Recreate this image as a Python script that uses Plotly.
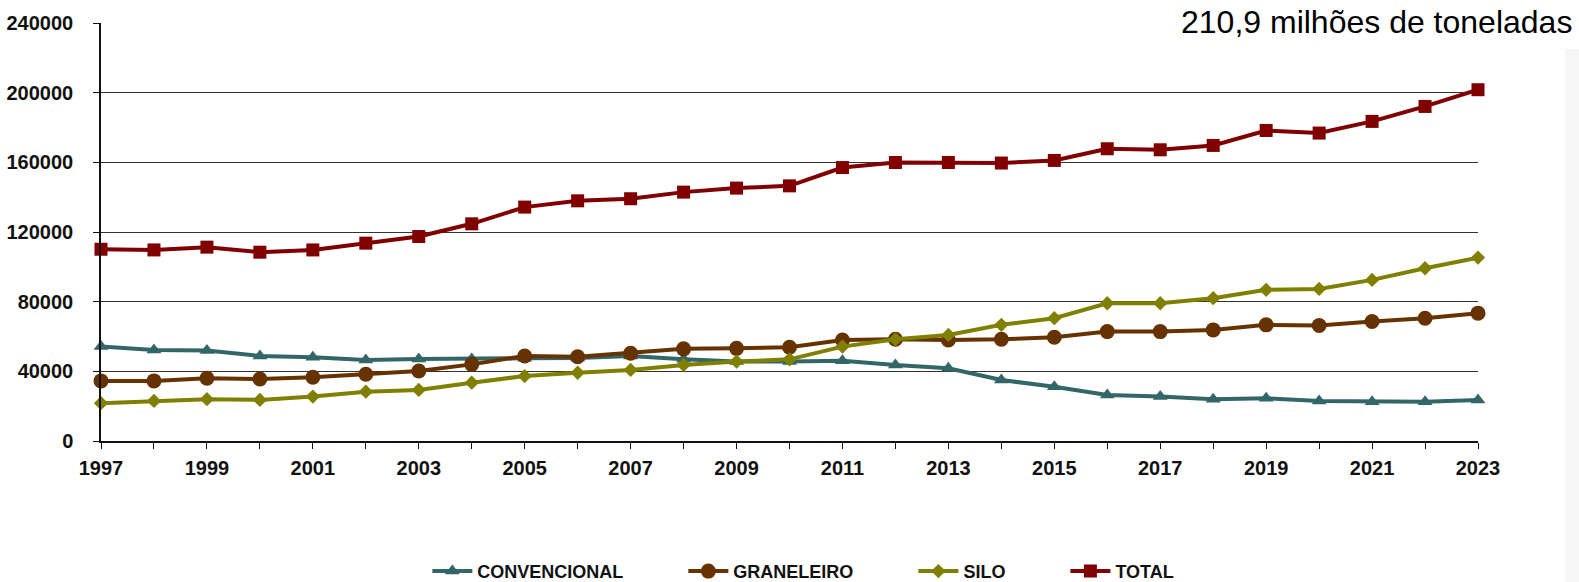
import plotly.graph_objects as go

# anos e séries (mil toneladas)
anos = list(range(1997, 2024))

convencional = [54200, 52300, 51900, 48800, 48100, 46500, 47100, 47100, 47500, 47700,
                48800, 46900, 45600, 45600, 46100, 43700, 41800, 35000, 31200, 26400,
                25500, 23900, 24500, 23000, 22600, 22600, 23600]
graneleiro = [34500, 34500, 36000, 35600, 36600, 38300, 40200, 44000, 48800, 48400,
              50400, 52900, 53200, 53800, 58000, 58400, 58000, 58400, 59600, 62800,
              62800, 63800, 66700, 66300, 68600, 70500, 73400]
silo = [21700, 23000, 24000, 23600, 25500, 28300, 29300, 33500, 37300, 39200,
        40800, 43700, 45600, 46900, 54200, 58400, 60900, 66700, 70500, 79100,
        79100, 82000, 86800, 87300, 92500, 99200, 105300]
total = [110100, 109700, 111300, 108400, 109700, 113600, 117400, 124700, 134300, 137900,
         139100, 142900, 145200, 146500, 157000, 159900, 159900, 159600, 161100, 167800,
         167200, 169700, 178300, 176800, 183500, 192100, 201700]

y_ticks = [0, 40000, 80000, 120000, 160000, 200000, 240000]
x_ticks = list(range(1997, 2024, 2))

series = [
    ("CONVENCIONAL", convencional, "#336666", "triangle-up", 13),
    ("GRANELEIRO", graneleiro, "#663300", "circle", 15),
    ("SILO", silo, "#808000", "diamond", 11),
    ("TOTAL", total, "#800000", "square", 13),
]

pad = "\u00a0" * 11  # spacing between legend entries

fig = go.Figure()
for name, vals, color, symbol, size in series:
    fig.add_trace(go.Scatter(
        x=anos, y=vals, name=name + pad, mode="lines+markers",
        line=dict(color=color, width=4),
        marker=dict(symbol=symbol, size=size, color=color),
        cliponaxis=False,
    ))

bold = dict(family="Liberation Sans, Arial, sans-serif", size=20, color="#111", weight="bold")

fig.update_layout(
    width=1579, height=582,
    margin=dict(l=101, r=101, t=23, b=141, autoexpand=False),
    plot_bgcolor="white", paper_bgcolor="white",
    xaxis=dict(
        range=[1997, 2023], tickmode="array", tickvals=x_ticks, tickformat="d",
        showgrid=False, zeroline=False, showline=True, linecolor="#111", linewidth=1.5,
        ticks="outside", ticklen=6, tickcolor="#111",
        minor=dict(tickmode="array", tickvals=anos, ticks="outside", ticklen=6, tickcolor="#111"),
        tickfont=bold, ticklabelstandoff=2,
    ),
    yaxis=dict(
        range=[0, 240000], tickmode="array", tickvals=y_ticks, tickformat="d",
        showgrid=True, gridcolor="#333", gridwidth=1, zeroline=False,
        showline=True, linecolor="#111", linewidth=1.5,
        ticks="outside", ticklen=6, tickcolor="#111",
        tickfont=bold, ticklabelstandoff=16,
    ),
    legend=dict(
        orientation="h", x=0.237, xanchor="left", y=-0.312, yanchor="middle",
        font=dict(family="Liberation Sans, Arial, sans-serif", size=18, color="#111", weight="bold"),
        itemwidth=40,
    ),
    showlegend=True,
)

# white panel hiding the end of the top gridline, behind the title text
fig.add_shape(type="rect", xref="paper", yref="paper",
              x0=0.695, x1=1.01, y0=0.985, y1=1.02,
              fillcolor="white", line=dict(width=0), layer="above")
# light grey strip on the right edge
fig.add_shape(type="rect", xref="paper", yref="paper",
              x0=1.0632, x1=1.08, y0=-0.34, y1=0.9378,
              fillcolor="#f6f6f6", line=dict(width=0), layer="below")

fig.add_annotation(
    xref="paper", yref="paper", x=1.0697, y=1.003,
    xanchor="right", yanchor="middle",
    text="210,9 milhões de toneladas", showarrow=False,
    font=dict(family="Liberation Sans, Arial, sans-serif", size=32, color="#000"),
)

fig.write_html("out.html", config={"displayModeBar": False},
               post_script="document.body.style.margin='0';")
